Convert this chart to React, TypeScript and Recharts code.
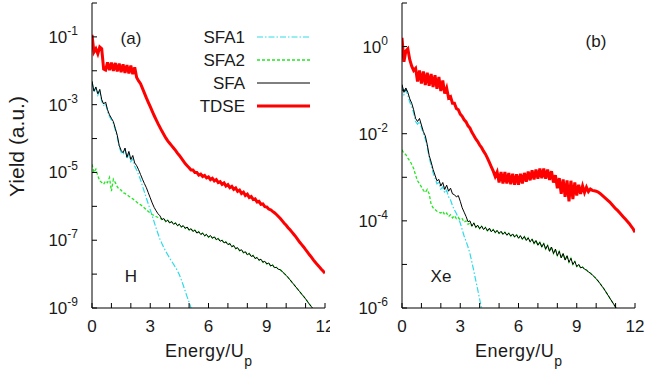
import { LineChart, Line, XAxis, YAxis, Legend } from "recharts";

const FONT = '"Liberation Sans", Arial, Helvetica, sans-serif';
const INK = "#1a1a1a";
const TICK_LEN = 5;
const FS = 17;

const ENERGY_TICKS = [0, 1, 2, 3, 4, 5, 6, 7, 8, 9, 10, 11, 12];
const ENERGY_LABELS = [0, 3, 6, 9, 12];
const DECADES_H = [1e-9, 1e-8, 1e-7, 1e-6, 1e-5, 1e-4, 1e-3, 1e-2, 1e-1, 1];
const EXPONENTS_H = [-9, -7, -5, -3, -1];
const DECADES_XE = [1e-6, 1e-5, 1e-4, 1e-3, 1e-2, 1e-1, 1, 10];
const EXPONENTS_XE = [-6, -4, -2, 0];

// log10(yield), sampled every 0.1 Up starting at 0
const H_TDSE = [
  -0.94, -1.45, -1.35, -1.5, -1.3, -1.35, -1.95, -1.98, -1.75, -1.98,
  -1.76, -2.0, -1.77, -2.02, -1.79, -2.04, -1.81, -2.06, -1.83, -2.08,
  -1.85, -2.1, -1.9, -2.2, -2.3, -2.38, -2.52, -2.66, -2.8, -2.93,
  -3.06, -3.19, -3.32, -3.44, -3.56, -3.67, -3.78, -3.88, -3.98, -4.07,
  -4.14, -4.21, -4.28, -4.35, -4.43, -4.5, -4.58, -4.66, -4.74, -4.8,
  -4.86, -4.93, -4.93, -5.0, -5.0, -5.08, -5.05, -5.12, -5.09, -5.16,
  -5.13, -5.21, -5.17, -5.25, -5.21, -5.3, -5.27, -5.35, -5.31, -5.4,
  -5.36, -5.45, -5.41, -5.5, -5.46, -5.56, -5.52, -5.62, -5.58, -5.68,
  -5.64, -5.74, -5.71, -5.8, -5.78, -5.87, -5.85, -5.94, -5.93, -6.01,
  -6.02, -6.08, -6.1, -6.15, -6.19, -6.24, -6.3, -6.36, -6.43, -6.5,
  -6.56, -6.63, -6.69, -6.76, -6.83, -6.9, -6.98, -7.06, -7.13, -7.2,
  -7.28, -7.35, -7.43, -7.5, -7.58, -7.65, -7.72, -7.78, -7.85, -7.91,
  -7.97,
];

const H_SFA = [
  -2.31, -2.6, -2.48, -2.68, -2.55, -2.85, -2.98, -2.92, -3.15, -3.3,
  -3.4, -3.5, -3.7, -3.9, -4.2, -4.35, -4.42, -4.28, -4.55, -4.38,
  -4.62, -4.5, -4.72, -4.8, -4.92, -5.06, -5.2, -5.33, -5.45, -5.6,
  -5.75, -5.9, -6.03, -6.13, -6.22, -6.28, -6.39, -6.36, -6.45, -6.41,
  -6.49, -6.45, -6.53, -6.49, -6.57, -6.53, -6.61, -6.57, -6.65, -6.61,
  -6.7, -6.66, -6.74, -6.7, -6.79, -6.75, -6.83, -6.79, -6.87, -6.83,
  -6.91, -6.86, -6.94, -6.9, -6.98, -6.95, -7.03, -7.0, -7.08, -7.05,
  -7.13, -7.1, -7.19, -7.16, -7.25, -7.22, -7.31, -7.28, -7.37, -7.34,
  -7.43, -7.39, -7.48, -7.45, -7.54, -7.51, -7.59, -7.56, -7.65, -7.62,
  -7.7, -7.67, -7.76, -7.73, -7.81, -7.8, -7.86, -7.87, -7.93, -7.98,
  -8.04, -8.1, -8.17, -8.24, -8.31, -8.38, -8.45, -8.52, -8.59, -8.66,
  -8.73, -8.81, -8.89, -8.96, -9.04, -9.12,
];

const H_SFA1 = [
  -2.31, -2.63, -2.5, -2.72, -2.6, -2.9, -3.02, -2.97, -3.2, -3.35,
  -3.45, -3.55, -3.75, -3.95, -4.25, -4.4, -4.47, -4.33, -4.6, -4.45,
  -4.68, -4.6, -4.82, -4.93, -5.07, -5.22, -5.4, -5.58, -5.76, -5.93,
  -6.1, -6.28, -6.46, -6.64, -6.81, -6.97, -7.1, -7.22, -7.33, -7.43,
  -7.53, -7.62, -7.71, -7.8, -7.9, -8.02, -8.17, -8.33, -8.5, -8.67,
  -8.83, -9.0, -9.17,
];

// SFA2 below 3.5 Up; above it the curve lies on the SFA one
const H_SFA2_LOW = [
  -4.76, -5.0, -4.9, -5.1, -5.25, -5.3, -5.35, -5.25, -5.3, -5.15,
  -5.55, -5.2, -5.3, -5.42, -5.5, -5.52, -5.6, -5.62, -5.66, -5.7,
  -5.74, -5.78, -5.83, -5.87, -5.92, -5.95, -6.0, -6.05, -6.1, -6.15,
  -6.2, -6.24, -6.27, -6.3, -6.33, -6.35,
];
const H_SFA2 = [...H_SFA2_LOW, ...H_SFA.slice(H_SFA2_LOW.length)];

const XE_TDSE = [
  0.2, -0.35, -0.1, -0.05, -0.3, -0.45, -0.55, -0.5, -0.8, -0.55,
  -0.85, -0.57, -0.88, -0.6, -0.9, -0.63, -0.93, -0.66, -0.97, -0.7,
  -1.02, -0.78, -1.08, -0.95, -1.18, -1.15, -1.3, -1.3, -1.42, -1.45,
  -1.55, -1.6, -1.68, -1.73, -1.82, -1.87, -1.97, -2.04, -2.12, -2.18,
  -2.26, -2.32, -2.4, -2.47, -2.56, -2.66, -2.76, -2.86, -2.98, -2.88,
  -3.12, -2.88, -3.14, -2.88, -3.14, -2.9, -3.16, -2.92, -3.17, -2.93,
  -3.17, -2.92, -3.14, -2.9, -3.1, -2.87, -3.07, -2.84, -3.05, -2.82,
  -3.03, -2.8, -3.02, -2.8, -3.03, -2.82, -3.06, -2.86, -3.12, -2.95,
  -3.25, -3.02, -3.38, -3.05, -3.45, -3.07, -3.55, -3.08, -3.5, -3.12,
  -3.42, -3.17, -3.38, -3.2, -3.35, -3.23, -3.33, -3.27, -3.3, -3.31,
  -3.32, -3.34, -3.37, -3.41, -3.45, -3.49, -3.53, -3.57, -3.62, -3.67,
  -3.72, -3.76, -3.81, -3.86, -3.91, -3.96, -4.01, -4.06, -4.12, -4.18,
  -4.26,
];

const XE_SFA = [
  -0.87, -1.05, -0.95, -1.05, -1.2, -1.3, -1.45, -1.65, -1.72, -1.65,
  -1.8, -1.95, -2.05, -2.25, -2.5, -2.65, -2.82, -2.95, -3.08, -3.05,
  -3.2, -3.12, -3.28, -3.18, -3.32, -3.25, -3.38, -3.4, -3.45, -3.42,
  -3.55, -3.7, -3.8, -3.9, -4.02, -4.0, -4.12, -4.05, -4.15, -4.1,
  -4.18, -4.12, -4.2, -4.15, -4.23, -4.17, -4.25, -4.2, -4.27, -4.22,
  -4.29, -4.24, -4.31, -4.26, -4.33, -4.28, -4.35, -4.3, -4.37, -4.32,
  -4.4, -4.34, -4.42, -4.36, -4.45, -4.39, -4.48, -4.42, -4.52, -4.45,
  -4.56, -4.49, -4.6, -4.52, -4.65, -4.56, -4.7, -4.6, -4.75, -4.65,
  -4.8, -4.7, -4.85, -4.75, -4.9, -4.8, -4.95, -4.86, -5.0, -4.93,
  -5.05, -5.0, -5.08, -5.06, -5.11, -5.13, -5.17, -5.2, -5.24, -5.28,
  -5.33, -5.38, -5.44, -5.5, -5.56, -5.63, -5.7, -5.77, -5.84, -5.91,
  -5.98, -6.05,
];

const XE_SFA1 = [
  -0.9, -1.1, -1.0, -1.12, -1.28, -1.38, -1.52, -1.72, -1.78, -1.72,
  -1.86, -2.0, -2.12, -2.3, -2.55, -2.72, -2.9, -3.02, -3.15, -3.12,
  -3.27, -3.22, -3.36, -3.3, -3.45, -3.52, -3.65, -3.75, -3.83, -3.93,
  -4.05, -4.2, -4.35, -4.47, -4.6, -4.75, -4.95, -5.15, -5.37, -5.58,
  -5.8, -6.02, -6.24,
];

const XE_SFA2_LOW = [
  -2.37, -2.45, -2.48, -2.56, -2.62, -2.7, -2.8, -2.95, -3.08, -3.15,
  -3.22, -3.3, -3.35, -3.28, -3.38, -3.62, -3.7, -3.74, -3.78, -3.8,
  -3.82, -3.78, -3.86, -3.82, -3.9, -3.86, -3.93, -3.88, -3.95, -3.92,
  -3.98, -3.95, -4.03, -4.0, -4.08, -4.05,
];
const XE_SFA2 = [...XE_SFA2_LOW, ...XE_SFA.slice(XE_SFA2_LOW.length)];

const SERIES = [
  { key: "sfa1", name: "SFA1", color: "#2edbe9", width: 1.2, dash: "6 2 1.5 2" },
  { key: "sfa2", name: "SFA2", color: "#22e622", width: 1.3, dash: "3 2" },
  { key: "sfa", name: "SFA", color: "#000000", width: 1, dash: undefined },
  { key: "tdse", name: "TDSE", color: "#ff0000", width: 3, dash: undefined },
];

function buildRows(cols: Record<string, number[]>) {
  return H_TDSE.map((_, i) => {
    const row: any = { e: i / 10 };
    for (const k of Object.keys(cols)) {
      const v = cols[k][i];
      row[k] = v === undefined ? null : Math.pow(10, v);
    }
    return row;
  });
}

const ROWS_H = buildRows({ sfa1: H_SFA1, sfa2: H_SFA2, sfa: H_SFA, tdse: H_TDSE });
const ROWS_XE = buildRows({ sfa1: XE_SFA1, sfa2: XE_SFA2, sfa: XE_SFA, tdse: XE_TDSE });

function LeftTick(props: any) {
  const { x, y, payload, exponents } = props;
  const exp = Math.round(Math.log10(payload.value));
  return (
    <g>
      <line x1={x} x2={x + TICK_LEN} y1={y} y2={y} stroke="#000" />
      {exponents.includes(exp) && (
        <text x={x - 14} y={y + 6} textAnchor="end" fontSize={FS} fill={INK} fontFamily={FONT}>
          10<tspan dy={-8} fontSize={12}>{exp}</tspan>
        </text>
      )}
    </g>
  );
}

function RightTick(props: any) {
  const { x, y } = props;
  return <line x1={x - TICK_LEN} x2={x} y1={y} y2={y} stroke="#000" />;
}

function TopTick(props: any) {
  const { x, y } = props;
  return <line x1={x} x2={x} y1={y} y2={y + TICK_LEN} stroke="#000" />;
}

function BottomTick(props: any) {
  const { x, y, payload } = props;
  return (
    <g>
      <line x1={x} x2={x} y1={y} y2={y - TICK_LEN} stroke="#000" />
      {ENERGY_LABELS.includes(payload.value) && (
        <text x={x} y={y + 24} textAnchor="middle" fontSize={FS} fill={INK} fontFamily={FONT}>
          {payload.value}
        </text>
      )}
    </g>
  );
}

function EnergyTitle(props: any) {
  const { x, y, width } = props.viewBox;
  return (
    <text
      x={x + width / 2}
      y={y + 49}
      textAnchor="middle"
      fontSize={18}
      fill={INK}
      fontFamily={FONT}
      textLength={87}
      lengthAdjust="spacing"
    >
      Energy/U<tspan dy={9} fontSize={14}>p</tspan>
    </text>
  );
}

function YieldTitle(props: any) {
  const { x, y, height } = props.viewBox;
  const cx = x - 14;
  const cy = y + height / 2 - 9;
  return (
    <text
      x={cx}
      y={cy}
      transform={`rotate(-90 ${cx} ${cy})`}
      textAnchor="middle"
      dominantBaseline="central"
      fontSize={21}
      fill={INK}
      fontFamily={FONT}
    >
      Yield (a.u.)
    </text>
  );
}

function KeyBox() {
  return (
    <svg width={135} height={95} style={{ display: "block" }}>
      {SERIES.map((s, i) => (
        <g key={s.key}>
          <text x={60} y={12 + i * 23 + 6} textAnchor="end" fontSize={FS} fill={INK} fontFamily={FONT}>
            {s.name}
          </text>
          <line
            x1={72}
            x2={125}
            y1={12 + i * 23}
            y2={12 + i * 23}
            stroke={s.color}
            strokeWidth={s.width}
            strokeDasharray={s.dash}
          />
        </g>
      ))}
    </svg>
  );
}

function Panel({ rows, decades, exponents, width, margin, withTitleAndKey }: any) {
  const yDomain = [decades[0], decades[decades.length - 1]];
  return (
    <LineChart width={width} height={375} data={rows} margin={margin}>
      <XAxis
        xAxisId="b"
        dataKey="e"
        type="number"
        domain={[0, 12]}
        ticks={ENERGY_TICKS}
        interval={0}
        allowDataOverflow
        height={30}
        tickSize={0}
        tickMargin={0}
        tickLine={false}
        axisLine={{ stroke: "#000" }}
        tick={<BottomTick />}
        label={<EnergyTitle />}
      />
      <XAxis
        xAxisId="t"
        orientation="top"
        dataKey="e"
        type="number"
        domain={[0, 12]}
        ticks={ENERGY_TICKS}
        interval={0}
        allowDataOverflow
        height={0}
        tickSize={0}
        tickMargin={0}
        tickLine={false}
        axisLine={{ stroke: "#000" }}
        tick={<TopTick />}
      />
      <YAxis
        yAxisId="l"
        type="number"
        scale="log"
        domain={yDomain}
        ticks={decades}
        interval={0}
        allowDataOverflow
        width={62}
        tickSize={0}
        tickMargin={0}
        tickLine={false}
        axisLine={{ stroke: "#000" }}
        tick={<LeftTick exponents={exponents} />}
        label={withTitleAndKey ? <YieldTitle /> : undefined}
      />
      <YAxis
        yAxisId="r"
        orientation="right"
        type="number"
        scale="log"
        domain={yDomain}
        ticks={decades}
        interval={0}
        allowDataOverflow
        width={0}
        tickSize={0}
        tickMargin={0}
        tickLine={false}
        axisLine={{ stroke: "#000" }}
        tick={<RightTick />}
      />
      {SERIES.map((s) => (
        <Line
          key={s.key}
          xAxisId="b"
          yAxisId="l"
          type="linear"
          dataKey={s.key}
          name={s.name}
          stroke={s.color}
          strokeWidth={s.width}
          strokeDasharray={s.dash}
          dot={false}
          activeDot={false}
          isAnimationActive={false}
        />
      ))}
      {withTitleAndKey && (
        <Legend
          layout="vertical"
          align="center"
          verticalAlign="middle"
          content={<KeyBox />}
          wrapperStyle={{ left: 185, top: 25, width: 135, height: 95 }}
        />
      )}
    </LineChart>
  );
}

export default function App() {
  return (
    <div
      style={{
        position: "absolute",
        left: 0,
        top: 0,
        width: 648,
        height: 375,
        background: "#fff",
        fontFamily: FONT,
      }}
    >
      <div style={{ position: "absolute", left: 0, top: 0 }}>
        <Panel
          rows={ROWS_H}
          decades={DECADES_H}
          exponents={EXPONENTS_H}
          width={330}
          margin={{ top: 3, right: 5, bottom: 37, left: 30 }}
          withTitleAndKey
        />
      </div>
      <div style={{ position: "absolute", left: 330, top: 0 }}>
        <Panel
          rows={ROWS_XE}
          decades={DECADES_XE}
          exponents={EXPONENTS_XE}
          width={318}
          margin={{ top: 3, right: 13, bottom: 37, left: 10 }}
          withTitleAndKey={false}
        />
      </div>
      <svg
        width={648}
        height={375}
        style={{ position: "absolute", left: 0, top: 0, pointerEvents: "none" }}
        fontFamily={FONT}
        fontSize={FS}
        fill={INK}
      >
        <text x={131} y={44} textAnchor="middle">(a)</text>
        <text x={131} y={282} textAnchor="middle">H</text>
        <text x={596} y={47} textAnchor="middle">(b)</text>
        <text x={441} y={282} textAnchor="middle">Xe</text>
      </svg>
    </div>
  );
}
